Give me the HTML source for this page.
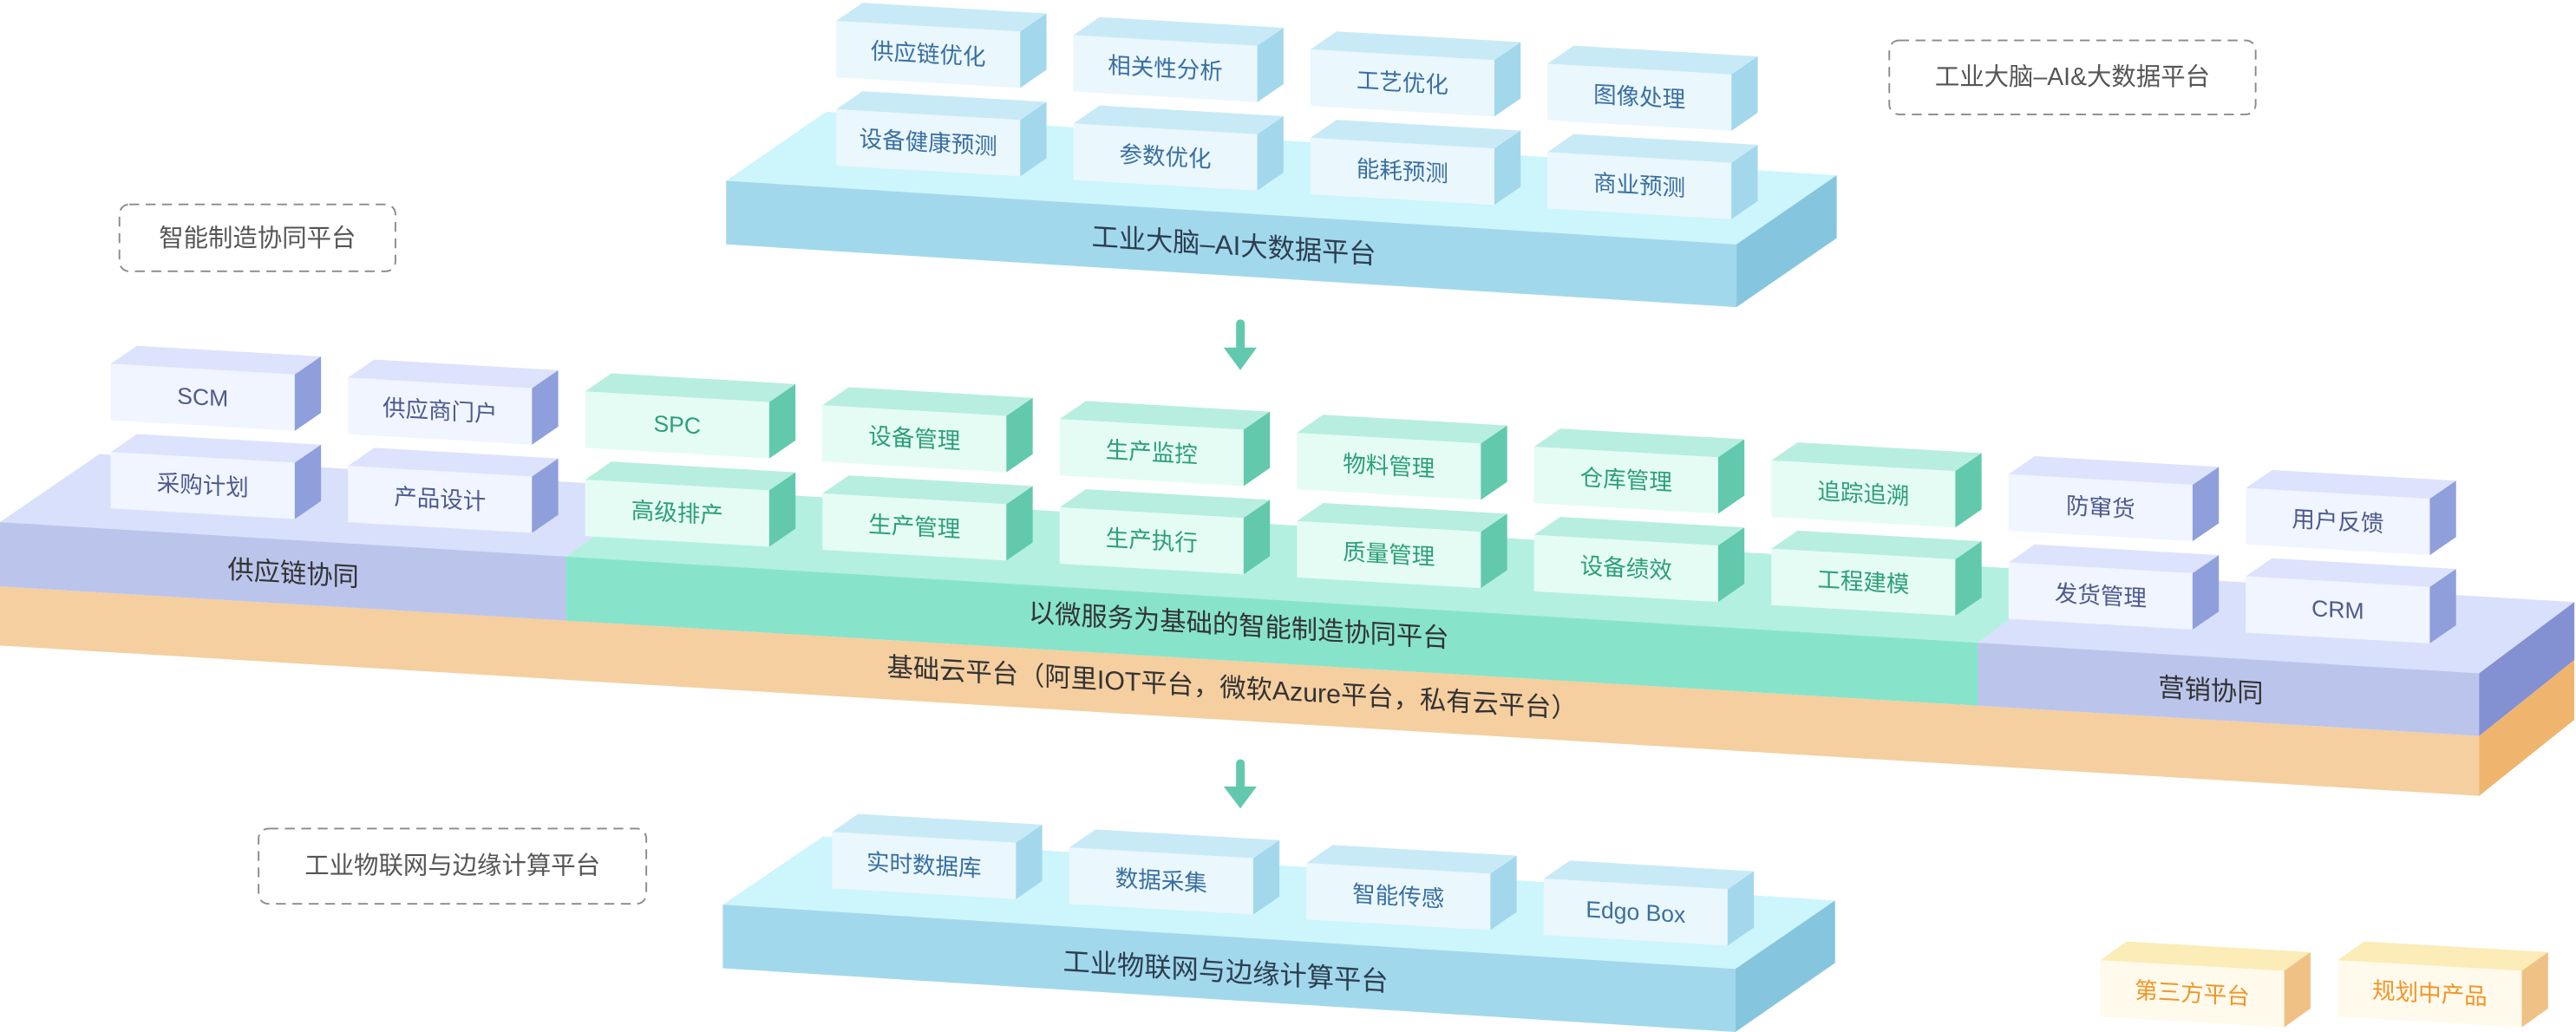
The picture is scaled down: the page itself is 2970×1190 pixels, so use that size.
<!DOCTYPE html>
<html><head><meta charset="utf-8"><style>
html,body{margin:0;padding:0;background:#fff;}
svg{display:block;}
text{font-family:"Liberation Sans","Noto Sans CJK SC",sans-serif;}
</style></head><body>
<svg width="2970" height="1190" viewBox="0 0 1568 628" preserveAspectRatio="none" xmlns="http://www.w3.org/2000/svg">
<defs>
<g id="bB">
<polygon points="0,0 16,-11 128,-4.5 112,6.5" fill="#c8eaf6"/>
<polygon points="0,0 112,6.5 112,40.8 0,34.3" fill="#eaf7fd"/>
<polygon points="112,6.5 128,-4.5 128,29.8 112,40.8" fill="#a3d8ec"/>
</g>
<g id="bP">
<polygon points="0,0 16,-11 128,-4.5 112,6.5" fill="#dde2fd"/>
<polygon points="0,0 112,6.5 112,40.8 0,34.3" fill="#f0f5ff"/>
<polygon points="112,6.5 128,-4.5 128,29.8 112,40.8" fill="#8f9fdc"/>
</g>
<g id="bG">
<polygon points="0,0 16,-11 128,-4.5 112,6.5" fill="#b7eedf"/>
<polygon points="0,0 112,6.5 112,40.8 0,34.3" fill="#e5fcf5"/>
<polygon points="112,6.5 128,-4.5 128,29.8 112,40.8" fill="#62c9ad"/>
</g>
<g id="bY">
<polygon points="0,0 16,-11.4 128,-4.9 112,6.5" fill="#fbecb8"/>
<polygon points="0,0 112,6.5 112,40.8 0,34.3" fill="#fffaeb"/>
<polygon points="112,6.5 128,-4.9 128,29.4 112,40.8" fill="#efc185"/>
</g>
</defs>

<!-- dashed labels -->
<rect x="1150" y="24.6" width="223" height="45" rx="6" fill="none" stroke="#8a8a8a" stroke-width="1" stroke-dasharray="6 4"/>
<text x="1261.5" y="47" text-anchor="middle" dominant-baseline="central" font-size="15" fill="#555">工业大脑–AI&amp;大数据平台</text>
<rect x="72.7" y="124.4" width="168" height="40.7" rx="6" fill="none" stroke="#8a8a8a" stroke-width="1" stroke-dasharray="6 4"/>
<text x="156.7" y="145" text-anchor="middle" dominant-baseline="central" font-size="15" fill="#555">智能制造协同平台</text>
<rect x="157.4" y="504.2" width="236" height="45.8" rx="6" fill="none" stroke="#8a8a8a" stroke-width="1" stroke-dasharray="6 4"/>
<text x="275.4" y="527" text-anchor="middle" dominant-baseline="central" font-size="15" fill="#555">工业物联网与边缘计算平台</text>

<!-- AI platform -->
<polygon points="442,110 503,68 1118,106.7 1057,148.7" fill="#ccf5fc"/>
<polygon points="442,110 1057,148.7 1057,186.9 442,148.7" fill="#a2d8ec"/>
<polygon points="1057,148.7 1118,106.7 1118,144.9 1057,186.9" fill="#85c6de"/>
<text transform="translate(751,149.5) skewY(3.6)" text-anchor="middle" dominant-baseline="central" font-size="16.5" fill="#2c3e50">工业大脑–AI大数据平台</text>

<g font-size="14" fill="#3a6fa0" text-anchor="middle">
<use href="#bB" x="509" y="12.7"/><text transform="translate(565,33) skewY(3.3)" dominant-baseline="central">供应链优化</text>
<use href="#bB" x="653.3" y="21.4"/><text transform="translate(709.3,41.7) skewY(3.3)" dominant-baseline="central">相关性分析</text>
<use href="#bB" x="797.6" y="30.1"/><text transform="translate(853.6,50.4) skewY(3.3)" dominant-baseline="central">工艺优化</text>
<use href="#bB" x="941.9" y="38.8"/><text transform="translate(997.9,59.1) skewY(3.3)" dominant-baseline="central">图像处理</text>
<use href="#bB" x="509" y="66.5"/><text transform="translate(565,86.8) skewY(3.3)" dominant-baseline="central">设备健康预测</text>
<use href="#bB" x="653.3" y="75.2"/><text transform="translate(709.3,95.5) skewY(3.3)" dominant-baseline="central">参数优化</text>
<use href="#bB" x="797.6" y="83.9"/><text transform="translate(853.6,104.2) skewY(3.3)" dominant-baseline="central">能耗预测</text>
<use href="#bB" x="941.9" y="92.6"/><text transform="translate(997.9,112.9) skewY(3.3)" dominant-baseline="central">商业预测</text>
</g>

<!-- arrows -->
<rect x="752.4" y="194.4" width="5.3" height="19" rx="2.6" fill="#63c9ae"/>
<polygon points="744.8,211.5 765,211.5 755,225.3" fill="#63c9ae"/>
<rect x="752.4" y="462" width="5.3" height="19" rx="2.6" fill="#63c9ae"/>
<polygon points="744.8,478.6 765,478.6 755,492" fill="#63c9ae"/>

<!-- middle slab -->
<polygon points="0,317.7 60.6,276.3 402.5,296.7 344.5,338.7" fill="#d9e0fb"/>
<polygon points="344.5,338.7 402.5,296.7 1262,348.1 1204,391.1" fill="#b3f0df"/>
<polygon points="1204,391.1 1262,348.1 1567,366.4 1509,409.7" fill="#d9e0fb"/>
<polygon points="0,317.7 344.5,338.7 344.5,377.7 0,356.9" fill="#bbc5ec"/>
<polygon points="344.5,338.7 1204,391.1 1204,429.5 344.5,377.7" fill="#87e4cb"/>
<polygon points="1204,391.1 1509,409.7 1509,447.9 1204,429.5" fill="#bbc5ec"/>
<polygon points="0,356.9 1509,447.9 1509,484.3 0,392.8" fill="#f5cfa0"/>
<polygon points="1509,409.7 1567,366.4 1567,401.6 1509,447.9" fill="#8390d2"/>
<polygon points="1509,447.9 1567,401.6 1567,438 1509,484.3" fill="#efb56e"/>
<g font-size="16" fill="#333" text-anchor="middle">
<text transform="translate(178.5,349.3) skewY(3.5)" dominant-baseline="central">供应链协同</text>
<text transform="translate(754,381) skewY(3.5)" dominant-baseline="central">以微服务为基础的智能制造协同平台</text>
<text transform="translate(750,419) skewY(3.5)" dominant-baseline="central">基础云平台（阿里IOT平台，微软Azure平台，私有云平台）</text>
<text transform="translate(1345.7,420.6) skewY(3.5)" dominant-baseline="central">营销协同</text>
</g>

<!-- middle boxes -->
<g font-size="14" text-anchor="middle">
<g fill="#4d5a8c">
<use href="#bP" x="67.4" y="221.4"/><text transform="translate(123.4,241.7) skewY(3.3)" dominant-baseline="central">SCM</text>
<use href="#bP" x="211.8" y="229.8"/><text transform="translate(267.8,250.1) skewY(3.3)" dominant-baseline="central">供应商门户</text>
<use href="#bP" x="67.4" y="275.1"/><text transform="translate(123.4,295.4) skewY(3.3)" dominant-baseline="central">采购计划</text>
<use href="#bP" x="211.8" y="283.5"/><text transform="translate(267.8,303.8) skewY(3.3)" dominant-baseline="central">产品设计</text>
<use href="#bP" x="1222.6" y="288.6"/><text transform="translate(1278.6,308.9) skewY(3.3)" dominant-baseline="central">防窜货</text>
<use href="#bP" x="1367" y="297"/><text transform="translate(1423,317.3) skewY(3.3)" dominant-baseline="central">用户反馈</text>
<use href="#bP" x="1222.6" y="342.3"/><text transform="translate(1278.6,362.6) skewY(3.3)" dominant-baseline="central">发货管理</text>
<use href="#bP" x="1367" y="350.7"/><text transform="translate(1423,371) skewY(3.3)" dominant-baseline="central">CRM</text>
</g>
<g fill="#2c9f78">
<use href="#bG" x="356.2" y="238.2"/><text transform="translate(412.2,258.5) skewY(3.3)" dominant-baseline="central">SPC</text>
<use href="#bG" x="500.6" y="246.6"/><text transform="translate(556.6,266.9) skewY(3.3)" dominant-baseline="central">设备管理</text>
<use href="#bG" x="645" y="255"/><text transform="translate(701,275.3) skewY(3.3)" dominant-baseline="central">生产监控</text>
<use href="#bG" x="789.4" y="263.4"/><text transform="translate(845.4,283.7) skewY(3.3)" dominant-baseline="central">物料管理</text>
<use href="#bG" x="933.8" y="271.8"/><text transform="translate(989.8,292.1) skewY(3.3)" dominant-baseline="central">仓库管理</text>
<use href="#bG" x="1078.2" y="280.2"/><text transform="translate(1134.2,300.5) skewY(3.3)" dominant-baseline="central">追踪追溯</text>
<use href="#bG" x="356.2" y="291.9"/><text transform="translate(412.2,312.2) skewY(3.3)" dominant-baseline="central">高级排产</text>
<use href="#bG" x="500.6" y="300.3"/><text transform="translate(556.6,320.6) skewY(3.3)" dominant-baseline="central">生产管理</text>
<use href="#bG" x="645" y="308.7"/><text transform="translate(701,329) skewY(3.3)" dominant-baseline="central">生产执行</text>
<use href="#bG" x="789.4" y="317.1"/><text transform="translate(845.4,337.4) skewY(3.3)" dominant-baseline="central">质量管理</text>
<use href="#bG" x="933.8" y="325.5"/><text transform="translate(989.8,345.8) skewY(3.3)" dominant-baseline="central">设备绩效</text>
<use href="#bG" x="1078.2" y="333.9"/><text transform="translate(1134.2,354.2) skewY(3.3)" dominant-baseline="central">工程建模</text>
</g>
</g>

<!-- IoT platform -->
<polygon points="440,550.5 501,509 1117,548 1056.3,589.6" fill="#ccf5fc"/>
<polygon points="440,550.5 1056.3,589.6 1056.3,628 440,589.2" fill="#a2d8ec"/>
<polygon points="1056.3,589.6 1117,548 1117,586 1056.3,628" fill="#85c6de"/>
<text transform="translate(746,591.3) skewY(3.6)" text-anchor="middle" dominant-baseline="central" font-size="16.5" fill="#2c3e50">工业物联网与边缘计算平台</text>
<g font-size="14" fill="#3a6fa0" text-anchor="middle">
<use href="#bB" x="506.4" y="506.3"/><text transform="translate(562.4,526.6) skewY(3.3)" dominant-baseline="central">实时数据库</text>
<use href="#bB" x="650.8" y="515.75"/><text transform="translate(706.8,536) skewY(3.3)" dominant-baseline="central">数据采集</text>
<use href="#bB" x="795.2" y="525.2"/><text transform="translate(851.2,545.5) skewY(3.3)" dominant-baseline="central">智能传感</text>
<use href="#bB" x="939.6" y="534.65"/><text transform="translate(995.6,555) skewY(3.3)" dominant-baseline="central">Edgo Box</text>
</g>

<!-- legend -->
<g font-size="14" fill="#f0962a" text-anchor="middle">
<use href="#bY" x="1278.4" y="584.3"/><text transform="translate(1334.4,604.6) skewY(3.3)" dominant-baseline="central">第三方平台</text>
<use href="#bY" x="1423" y="584.3"/><text transform="translate(1479,604.6) skewY(3.3)" dominant-baseline="central">规划中产品</text>
</g>
</svg>
</body></html>
